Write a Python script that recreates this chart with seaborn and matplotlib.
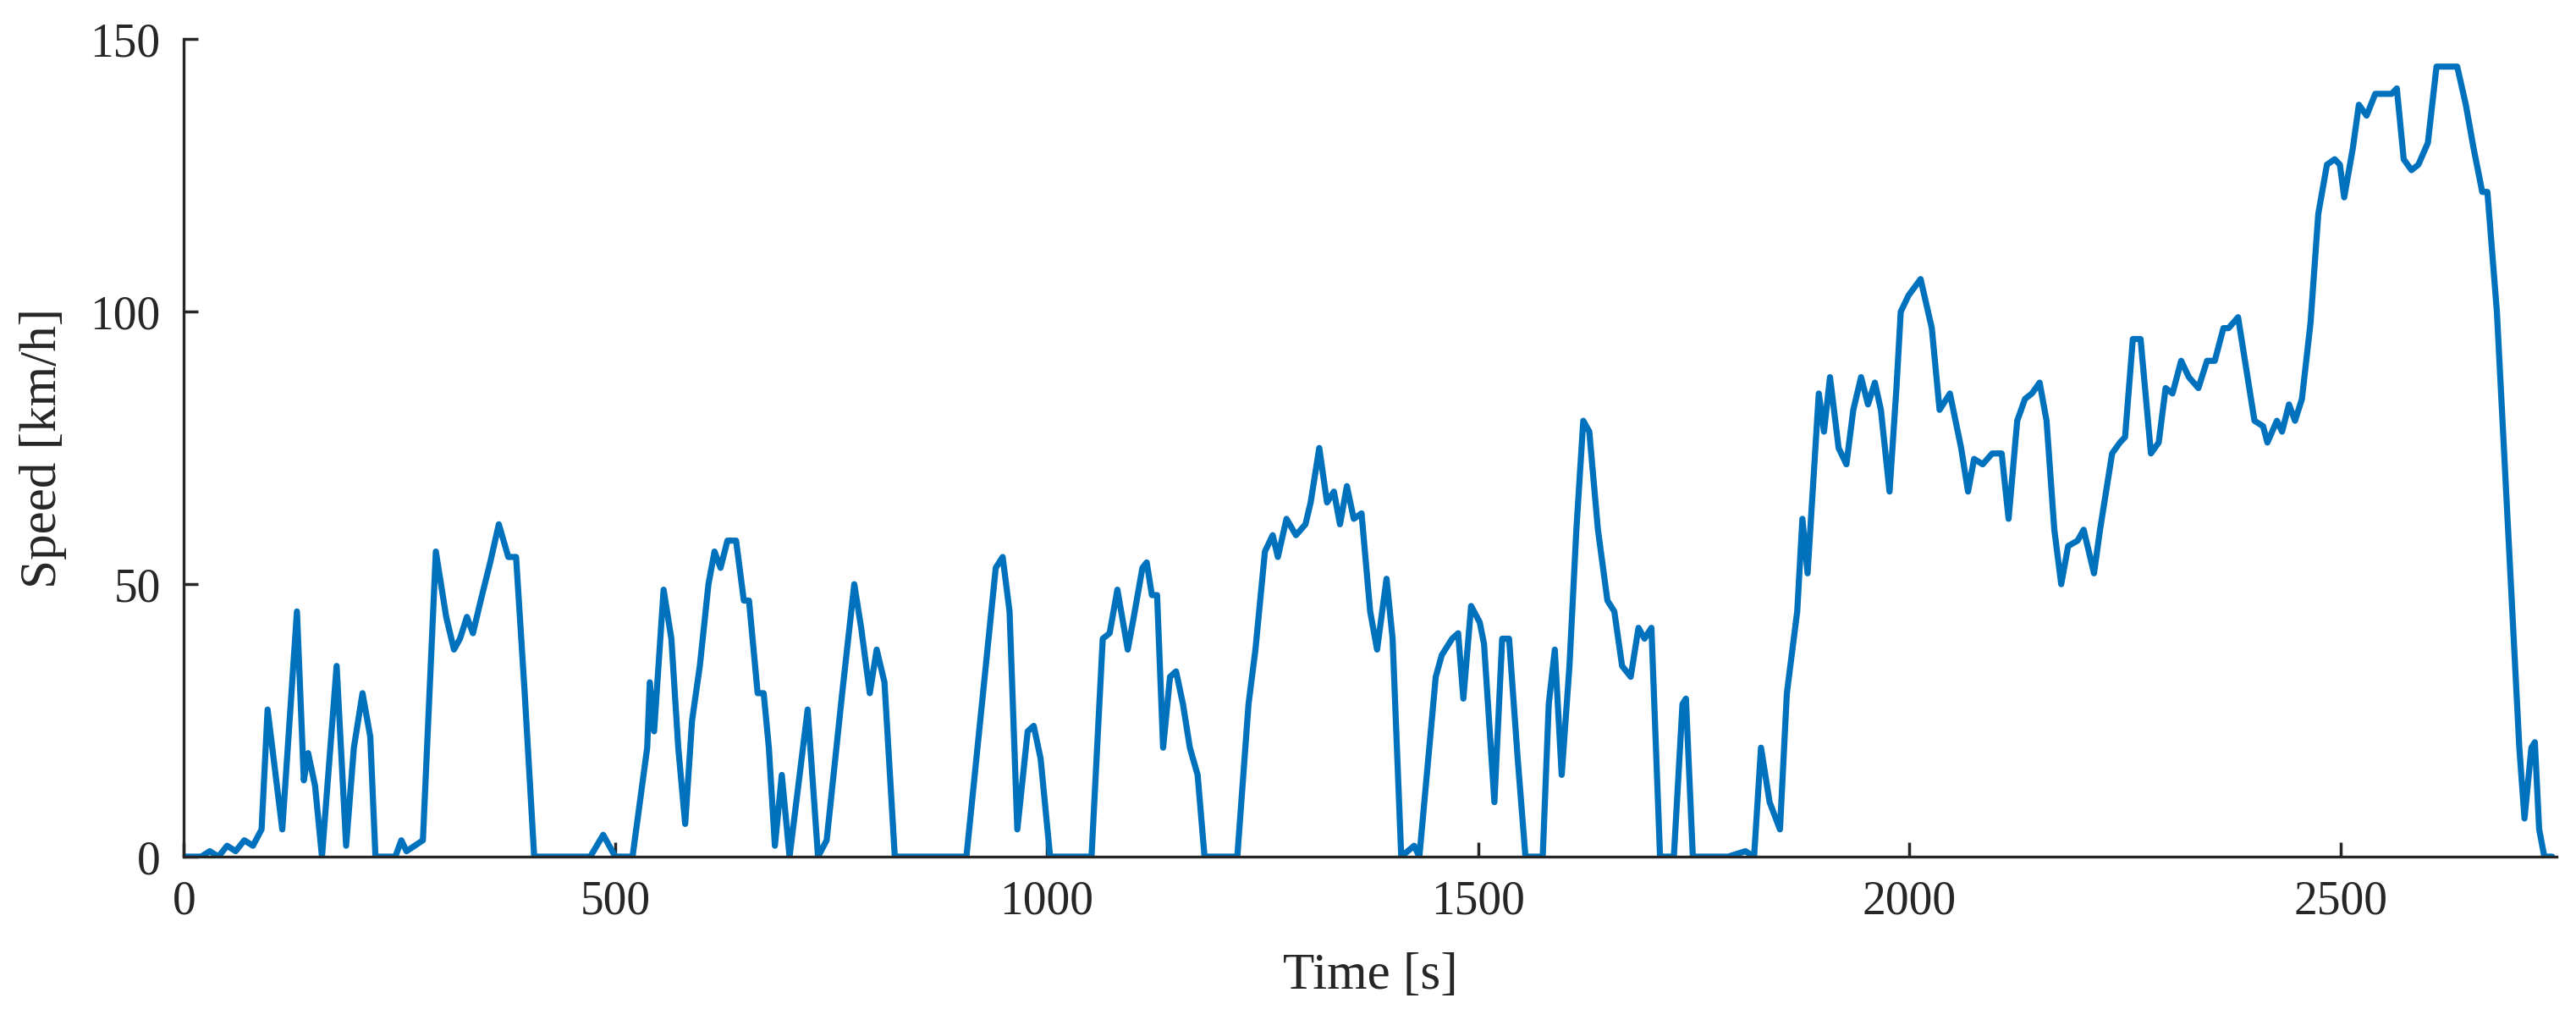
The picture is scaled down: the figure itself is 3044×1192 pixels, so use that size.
import numpy as np
import pandas as pd
import seaborn as sns
import matplotlib.pyplot as plt

# keypoints of the speed trace
time_s = [0, 20, 30, 40, 50, 60, 70, 80, 90, 97, 114, 131, 139, 144, 152, 160, 177, 188, 197, 207, 216, 222,
          245, 252, 258, 277, 292, 304, 313, 320, 328, 335, 344, 355, 365, 376, 385, 395, 406,
          471, 486, 500, 520, 537, 540, 545, 556, 565, 573, 581, 589, 598, 608, 615, 622, 630, 640, 649, 655,
          665, 672, 678, 685, 693, 702, 716, 723, 735, 745, 763, 777, 785, 795, 803, 812, 824,
          907, 941, 949, 957, 966, 978, 985, 993, 1004, 1052, 1065, 1073, 1082, 1094, 1101, 1111, 1116,
          1122, 1128, 1135, 1143, 1150, 1158, 1166, 1175, 1183,
          1221, 1234, 1242, 1253, 1262, 1268, 1278, 1289, 1300, 1306, 1316, 1325, 1333, 1340, 1348, 1356,
          1365, 1375, 1383, 1394, 1401, 1411, 1426, 1432,
          1451, 1458, 1470, 1477, 1483, 1492, 1502, 1507, 1519, 1528, 1536, 1546, 1555, 1575,
          1582, 1589, 1597, 1606, 1614, 1622, 1629, 1639, 1650, 1658, 1667, 1677, 1686, 1693, 1701, 1711,
          1727, 1737, 1741, 1749, 1790, 1810, 1820, 1828, 1838, 1850, 1858, 1870, 1876, 1882, 1895, 1901,
          1908, 1918, 1927, 1935, 1944, 1952, 1960, 1967, 1977, 1985, 1990, 1999, 2013, 2026, 2035, 2047,
          2060, 2068, 2075, 2085, 2096, 2107, 2115, 2125, 2134, 2142, 2151, 2159, 2168, 2176, 2184, 2195,
          2202, 2214, 2221, 2235, 2244, 2250, 2259, 2268, 2280, 2289, 2297, 2305, 2315, 2324, 2335, 2345,
          2354, 2364, 2370, 2381, 2390, 2400, 2410, 2415, 2426, 2432, 2440, 2447, 2455, 2465, 2474, 2484,
          2493, 2499, 2504, 2514, 2521, 2530, 2540, 2559, 2565, 2573, 2582, 2590, 2601, 2611, 2626, 2635,
          2645, 2654, 2664, 2670, 2681, 2694, 2707, 2713, 2721, 2725, 2730, 2736, 2745]
speed_kmh = [0, 0, 1, 0, 2, 1, 3, 2, 5, 27, 5, 45, 14, 19, 13, 0, 35, 2, 20, 30, 22, 0,
             0, 3, 1, 3, 56, 44, 38, 40, 44, 41, 47, 54, 61, 55, 55, 30, 0,
             0, 4, 0, 0, 20, 32, 23, 49, 40, 20, 6, 25, 35, 50, 56, 53, 58, 58, 47, 47,
             30, 30, 20, 2, 15, 0, 18, 27, 0, 3, 30, 50, 42, 30, 38, 32, 0,
             0, 53, 55, 45, 5, 23, 24, 18, 0, 0, 40, 41, 49, 38, 44, 53, 54,
             48, 48, 20, 33, 34, 28, 20, 15, 0,
             0, 28, 38, 56, 59, 55, 62, 59, 61, 65, 75, 65, 67, 61, 68, 62,
             63, 45, 38, 51, 40, 0, 2, 0,
             33, 37, 40, 41, 29, 46, 43, 39, 10, 40, 40, 18, 0, 0,
             28, 38, 15, 35, 60, 80, 78, 60, 47, 45, 35, 33, 42, 40, 42, 0,
             0, 28, 29, 0, 0, 1, 0, 20, 10, 5, 30, 45, 62, 52, 85, 78,
             88, 75, 72, 82, 88, 83, 87, 82, 67, 86, 100, 103, 106, 97, 82, 85,
             75, 67, 73, 72, 74, 74, 62, 80, 84, 85, 87, 80, 60, 50, 57, 58,
             60, 52, 60, 74, 76, 77, 95, 95, 74, 76, 86, 85, 91, 88, 86, 91,
             91, 97, 97, 99, 90, 80, 79, 76, 80, 78, 83, 80, 84, 98, 118, 127,
             128, 127, 121, 130, 138, 136, 140, 140, 141, 128, 126, 127, 131, 145, 145, 145,
             138, 130, 122, 122, 100, 60, 20, 7, 20, 21, 5, 0, 0]

x_ticks = [0, 500, 1000, 1500, 2000, 2500]
y_ticks = [0, 50, 100, 150]

df = pd.DataFrame({"time": time_s, "speed": speed_kmh})

sns.set_theme(style="ticks")
plt.rcParams['font.family'] = ['Liberation Serif', 'DejaVu Serif']

fig = plt.figure(figsize=(15.22, 5.96), dpi=200)
ax = fig.add_axes([0.0714, 0.151, 0.921, 0.81])
sns.lineplot(data=df, x="time", y="speed", color="#0072BD", linewidth=2.6, ax=ax)

ax.set_xlim(0, 2750)
ax.set_ylim(0, 150)
ax.set_xticks(x_ticks)
ax.set_yticks(y_ticks)
ax.tick_params(direction="in", labelsize=20, length=6, pad=10, color="#262626", labelcolor="#262626")
ax.set_xlabel("Time [s]", fontsize=22, color="#262626", labelpad=12)
ax.set_ylabel("Speed [km/h]", fontsize=22, color="#262626", labelpad=10)
for s in ["top", "right"]:
    ax.spines[s].set_visible(False)
for s in ["left", "bottom"]:
    ax.spines[s].set_color("#262626")
    ax.spines[s].set_linewidth(1.2)

fig.savefig("out.png", dpi=200)
